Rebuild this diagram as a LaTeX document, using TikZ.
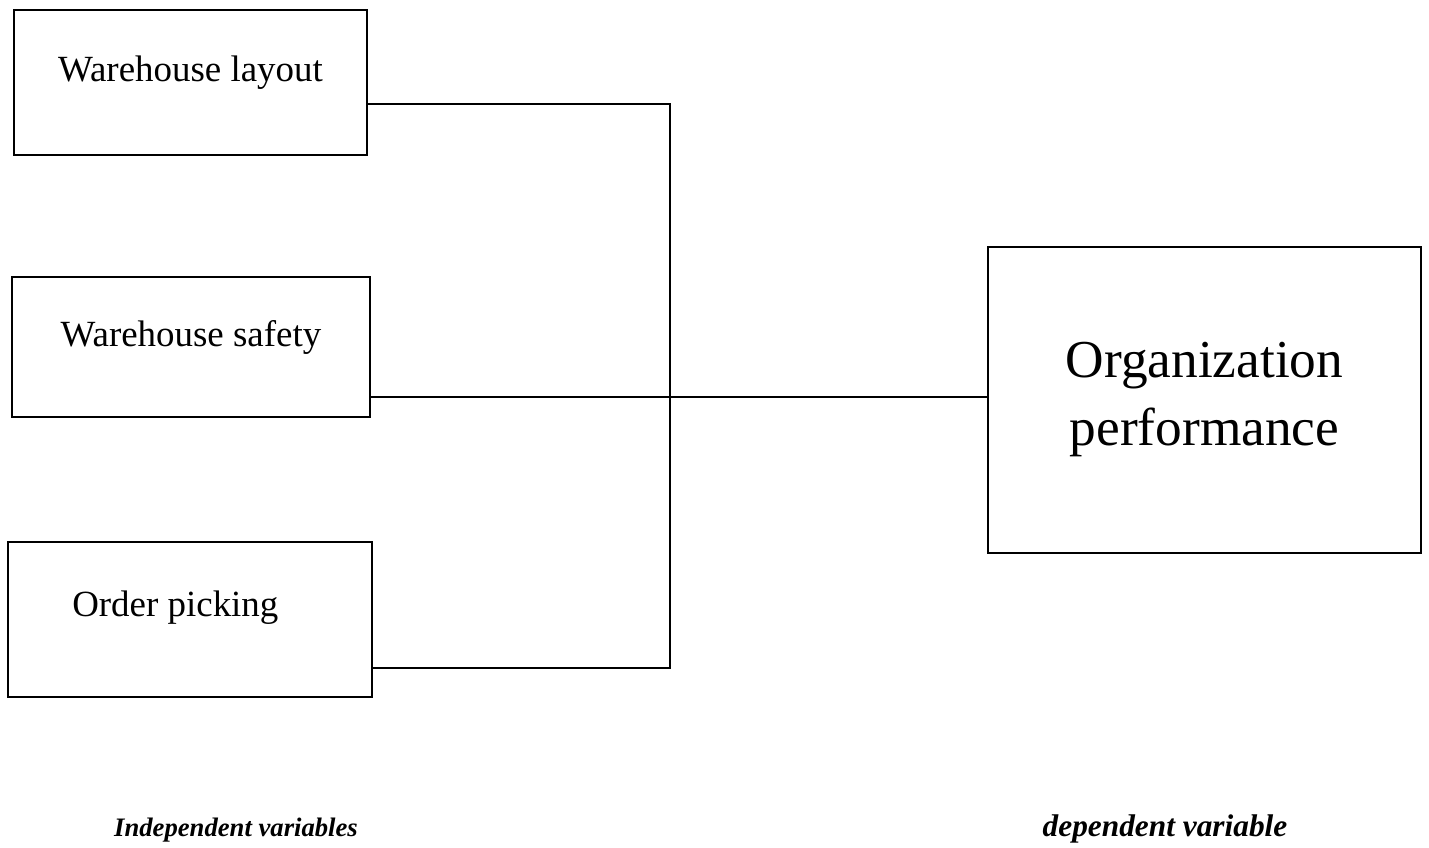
\documentclass[tikz,border=0pt]{standalone}
\usepackage{fontspec}
\setmainfont{Liberation Serif}
\usepackage{tikz}
\usepackage{xcolor}

\begin{document}
\begin{tikzpicture}[x=0.75pt,y=-0.75pt]
\tikzset{varbox/.style={draw, line width=1.3pt, inner sep=0pt, text height=19pt, text depth=20pt,
  font=\fontsize{27.7}{32}\selectfont},
  link/.style={line width=1.9pt}}
\useasboundingbox (0,0) rectangle (1429,848);

% independent variables
\node[varbox, minimum width=264.75pt, minimum height=108.75pt] (layout) at (190.5,82.5) {Warehouse layout};
\node[varbox, minimum width=268.5pt, minimum height=105pt] (safety) at (191,347) {Warehouse safety};
\node[varbox, minimum width=273pt, minimum height=116.25pt, text depth=23pt] (picking) at (190,619.5) {\hspace*{-22pt}Order picking};

% dependent variable
\node[draw, line width=1.3pt, align=center, inner sep=0pt, minimum width=324.75pt, minimum height=229.5pt,
  font=\fontsize{40}{51}\selectfont] (perf) at (1204.5,400) {Organization\\performance};

\coordinate (jtop) at (670,104);
\coordinate (jmid) at (670,397);
\coordinate (jbot) at (670,668);

\draw[link] (layout.east |- jtop) -- (jtop) -- (jbot) -- (picking.east |- jbot);
\draw[link] (safety.east |- jmid) -- (perf.west |- jmid);

% captions
\node[font=\fontsize{20}{24}\selectfont\bfseries\itshape] (indep) at (236,830) {Independent variables};
\node[font=\fontsize{23.5}{28}\selectfont\bfseries\itshape] (dep) at (1165,829) {dependent variable};
\end{tikzpicture}
\end{document}
